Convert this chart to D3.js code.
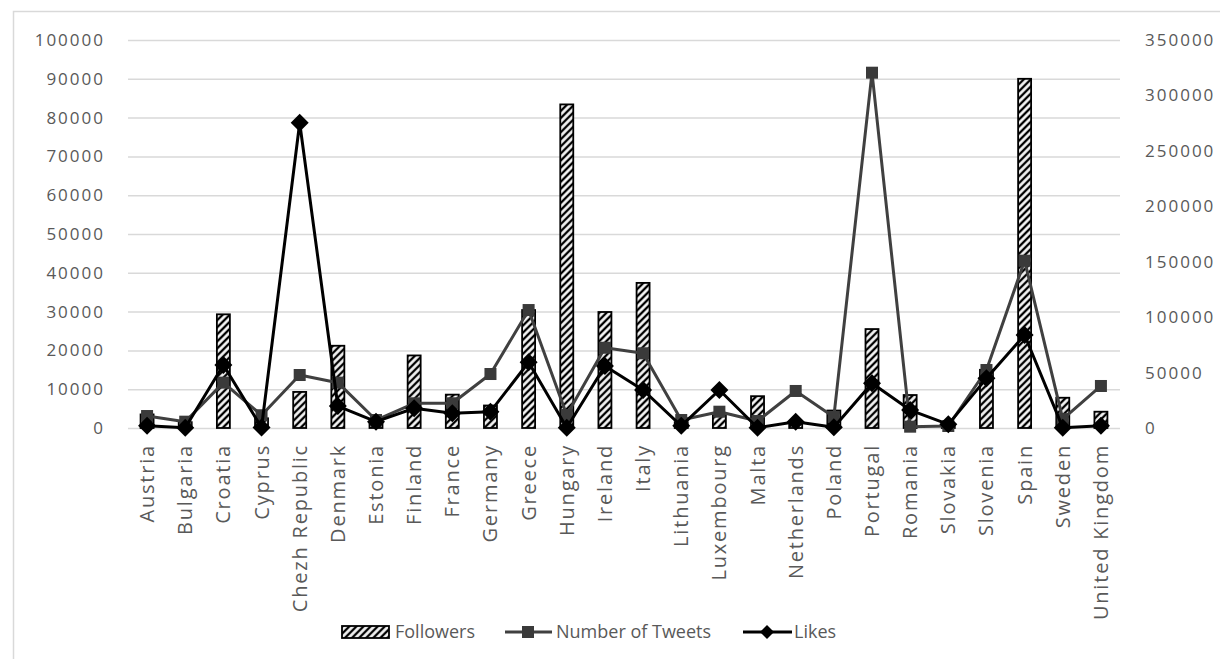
<!DOCTYPE html>
<meta charset="utf-8">
<style>
body { margin: 0; background: #fff; }
svg { display: block; }
.yaxis .tick text { fill: #595959; font: 17px "Open Sans", sans-serif; letter-spacing: 2px; }
.xaxis .tick text { fill: #595959; font: 20px "Open Sans", sans-serif; letter-spacing: 1.8px; }
.legend text { fill: #595959; font: 18px "Open Sans", sans-serif; }
.grid line { stroke: #d9d9d9; stroke-width: 1.5; }
</style>
<svg width="1220" height="659"></svg>
<script src="https://d3js.org/d3.v7.min.js"></script>
<script>
var countries = ["Austria", "Bulgaria", "Croatia", "Cyprus", "Chezh Republic", "Denmark", "Estonia",
  "Finland", "France", "Germany", "Greece", "Hungary", "Ireland", "Italy", "Lithuania", "Luxembourg",
  "Malta", "Netherlands", "Poland", "Portugal", "Romania", "Slovakia", "Slovenia", "Spain", "Sweden",
  "United Kingdom"];
var followers = [3500, 1500, 29300, 2500, 9300, 21200, 1500, 18700, 8600, 5800, 30400, 83400, 29900,
  37400, 1500, 3300, 8200, 1000, 4500, 25500, 8500, 1000, 15000, 90000, 7800, 4200];
var tweets = [10800, 5700, 40900, 11500, 47800, 40900, 7200, 22300, 22300, 48700, 106400, 11700, 72400,
  67400, 7200, 14700, 6300, 33400, 10000, 320500, 1200, 1800, 52300, 150900, 8000, 37900];
var likes = [2000, 300, 56800, 500, 275400, 19800, 5700, 17800, 13300, 14700, 59300, 300, 55900,
  34300, 2000, 34300, 200, 5700, 700, 40300, 16200, 3300, 44800, 83900, 300, 2100];
var leftTicks = [0, 10000, 20000, 30000, 40000, 50000, 60000, 70000, 80000, 90000, 100000];
var rightTicks = [0, 50000, 100000, 150000, 200000, 250000, 300000, 350000];

var svg = d3.select("svg");
var plotL = 128, plotR = 1120, plotT = 40, plotB = 428;

// chart frame (only top and left edges are visible)
svg.append("rect").attr("x", 13.5).attr("y", 11.5).attr("width", 1300).attr("height", 800)
  .attr("fill", "none").attr("stroke", "#d9d9d9").attr("stroke-width", 1.5);

var defs = svg.append("defs");
var pat = defs.append("pattern").attr("id", "hatch").attr("patternUnits", "userSpaceOnUse")
  .attr("width", 5).attr("height", 5).attr("patternTransform", "rotate(45)");
pat.append("rect").attr("width", 5).attr("height", 5).attr("fill", "#000");
pat.append("line").attr("x1", 2.5).attr("x2", 2.5).attr("y1", 0).attr("y2", 5)
  .attr("stroke", "#fff").attr("stroke-width", 2.6);

var x = d3.scaleBand().domain(countries).range([plotL, plotR]);
var yL = d3.scaleLinear().domain([0, 100000]).range([plotB, plotT]);
var yR = d3.scaleLinear().domain([0, 350000]).range([plotB, plotT]);

// gridlines
svg.append("g").attr("class", "grid").attr("transform", "translate(" + plotL + ",0)")
  .call(d3.axisLeft(yL).tickValues(leftTicks).tickSize(-(plotR - plotL)).tickFormat(""))
  .call(function(g) { g.select(".domain").remove(); });

// left axis
svg.append("g").attr("class", "yaxis").attr("transform", "translate(" + (plotL - 23) + ",0)")
  .call(d3.axisLeft(yL).tickValues(leftTicks).tickSize(0).tickPadding(0).tickFormat(d3.format("d")))
  .call(function(g) { g.select(".domain").remove(); });

// right axis
svg.append("g").attr("class", "yaxis").attr("transform", "translate(" + (plotR + 25) + ",0)")
  .call(d3.axisRight(yR).tickValues(rightTicks).tickSize(0).tickPadding(0).tickFormat(d3.format("d")))
  .call(function(g) { g.select(".domain").remove(); });

// x axis labels
svg.append("g").attr("class", "xaxis").attr("transform", "translate(0," + plotB + ")")
  .call(d3.axisBottom(x).tickSize(0))
  .call(function(g) { g.select(".domain").remove(); })
  .selectAll("text")
  .attr("transform", "translate(0,16) rotate(-90)")
  .attr("text-anchor", "end")
  .attr("x", 0).attr("y", 0).attr("dy", "0.35em");

// bars
var bw = 13;
svg.append("g").selectAll("rect").data(followers).enter().append("rect")
  .attr("x", function(d, i) { return x(countries[i]) + x.bandwidth() / 2 - bw / 2; })
  .attr("y", function(d) { return yL(d); })
  .attr("width", bw)
  .attr("height", function(d) { return plotB - yL(d); })
  .attr("fill", "url(#hatch)").attr("stroke", "#000").attr("stroke-width", 1.8);

function cx(i) { return x(countries[i]) + x.bandwidth() / 2; }

// tweets line
var lineT = d3.line().x(function(d, i) { return cx(i); }).y(function(d) { return yR(d); });
svg.append("path").datum(tweets).attr("d", lineT).attr("fill", "none")
  .attr("stroke", "#404040").attr("stroke-width", 3).attr("stroke-linejoin", "round");
svg.append("g").selectAll("rect").data(tweets).enter().append("rect")
  .attr("x", function(d, i) { return cx(i) - 6; })
  .attr("y", function(d) { return yR(d) - 6; })
  .attr("width", 12).attr("height", 12).attr("fill", "#3a3a3a");

// likes line
svg.append("path").datum(likes).attr("d", lineT).attr("fill", "none")
  .attr("stroke", "#000").attr("stroke-width", 3).attr("stroke-linejoin", "round");
var diamond = "M0,-9L9,0L0,9L-9,0Z";
svg.append("g").selectAll("path").data(likes).enter().append("path")
  .attr("d", diamond)
  .attr("transform", function(d, i) { return "translate(" + cx(i) + "," + yR(d) + ")"; })
  .attr("fill", "#000");

// legend
var lg = svg.append("g").attr("class", "legend");
var ly = 632;
lg.append("rect").attr("x", 342).attr("y", ly - 6).attr("width", 47).attr("height", 12)
  .attr("fill", "url(#hatch)").attr("stroke", "#000").attr("stroke-width", 1.8);
lg.append("text").attr("x", 395).attr("y", ly).attr("dy", "0.35em").text("Followers");
lg.append("line").attr("x1", 505).attr("x2", 552).attr("y1", ly).attr("y2", ly)
  .attr("stroke", "#404040").attr("stroke-width", 3);
lg.append("rect").attr("x", 522).attr("y", ly - 6).attr("width", 12).attr("height", 12).attr("fill", "#3a3a3a");
lg.append("text").attr("x", 556).attr("y", ly).attr("dy", "0.35em").text("Number of Tweets");
lg.append("line").attr("x1", 743).attr("x2", 792).attr("y1", ly).attr("y2", ly)
  .attr("stroke", "#000").attr("stroke-width", 3);
lg.append("path").attr("d", "M0,-7L7,0L0,7L-7,0Z").attr("transform", "translate(767," + ly + ")").attr("fill", "#000");
lg.append("text").attr("x", 794).attr("y", ly).attr("dy", "0.35em").text("Likes");
</script>
